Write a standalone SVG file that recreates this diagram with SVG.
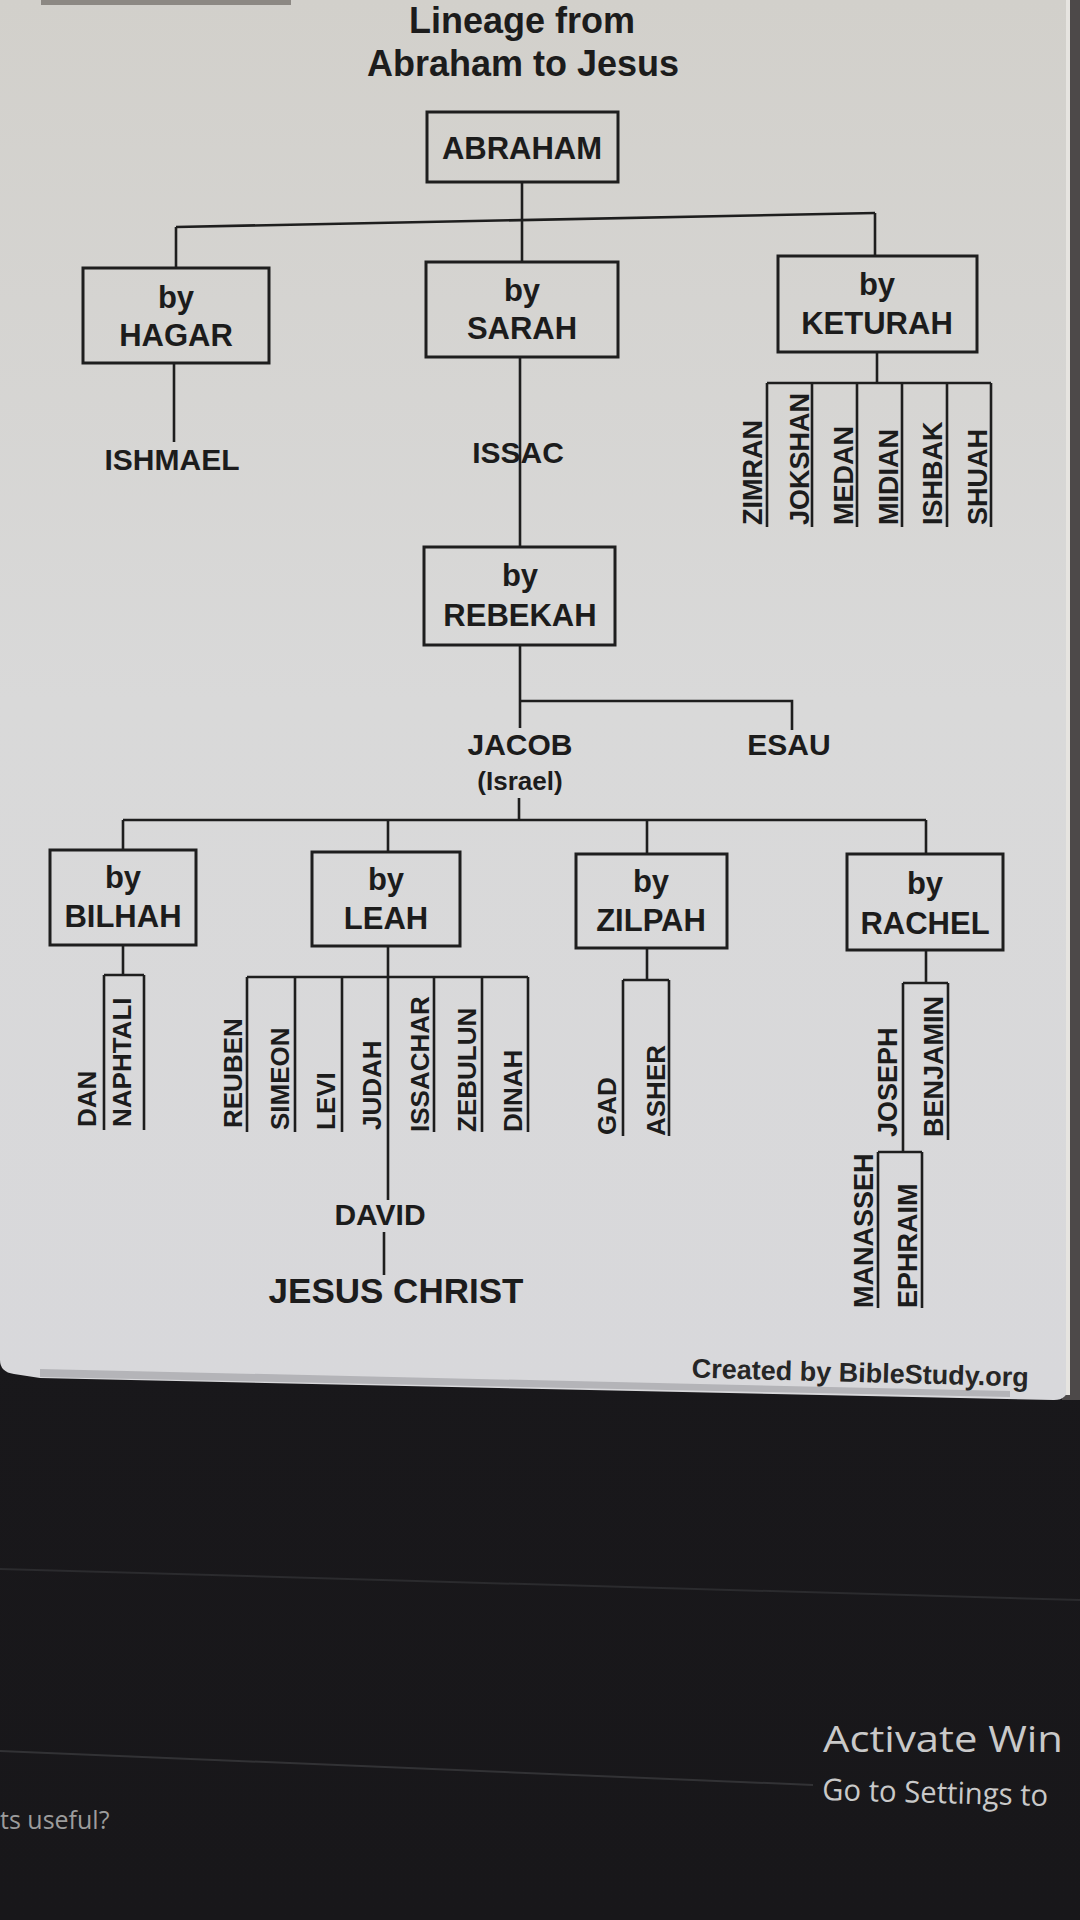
<svg xmlns="http://www.w3.org/2000/svg" width="1080" height="1920" viewBox="0 0 1080 1920">
<defs>
<linearGradient id="panelGrad" x1="0" y1="0" x2="0" y2="1">
<stop offset="0" stop-color="#d2d0cb"/>
<stop offset="0.5" stop-color="#d9d9d9"/>
<stop offset="1" stop-color="#d8d8db"/>
</linearGradient>
<linearGradient id="darkGrad" x1="0" y1="0" x2="0" y2="1">
<stop offset="0" stop-color="#1b1a1d"/>
<stop offset="1" stop-color="#18171a"/>
</linearGradient>
</defs>
<style>
.t{font-family:"Liberation Sans",Arial,sans-serif;font-weight:bold;fill:#1c1c1c;text-anchor:middle}
.lbl{font-size:31px}
.ttl{font-size:36px}
.nm{font-family:"Liberation Sans",Arial,sans-serif;font-weight:bold;fill:#1c1c1c;font-size:26px;text-anchor:start}
.nm27{font-size:27px}
.box{fill:none;stroke:#1e1e1e;stroke-width:3}
.ln{fill:none;stroke:#1e1e1e;stroke-width:2.6}
.win{font-family:"Open Sans","Noto Sans",sans-serif;fill:#c9c9c9}
</style>
<rect x="0" y="0" width="1080" height="1920" fill="url(#darkGrad)"/>
<rect x="1062" y="0" width="18" height="1400" fill="#4d4949"/>
<path d="M0,0 H1068 V1386 Q1068,1400 1054,1400 L40,1378 L14,1374 Q0,1372 0,1360 Z" fill="url(#panelGrad)"/>
<rect x="1066" y="0" width="4" height="1395" fill="#e6e4e0"/>
<rect x="41" y="0" width="250" height="5" fill="#8c8883"/>
<path d="M40,1369 L1010,1391 L1010,1397 L40,1377 Z" fill="#b4b4b8"/>
<line x1="0" y1="1569" x2="1080" y2="1600" stroke="#2b2b2e" stroke-width="2"/>
<line x1="0" y1="1751" x2="813" y2="1785" stroke="#323235" stroke-width="2"/>
<g id="title">
<text class="t ttl" x="522" y="33">Lineage from</text>
<text class="t ttl" x="523" y="76">Abraham to Jesus</text>
</g>
<g id="connectors">
<path class="ln" d="M522,182 V220"/>
<path class="ln" d="M176,227 L875,213"/>
<path class="ln" d="M176,227 V268"/>
<path class="ln" d="M522,220 V262"/>
<path class="ln" d="M875,213 V256"/>
<path class="ln" d="M174,363 V442"/>
<path class="ln" d="M520,357 V547"/>
<path class="ln" d="M877,352 V383"/>
<path class="ln" d="M767,383 H991 M767,383 V527 M812,383 V527 M857,383 V527 M902,383 V527 M947,383 V527 M991,383 V527"/>
<path class="ln" d="M520,645 V728"/>
<path class="ln" d="M520,701 H792 V730"/>
<path class="ln" d="M519,798 V820"/>
<path class="ln" d="M123,820 H926"/>
<path class="ln" d="M123,820 V850 M388,820 V852 M647,820 V854 M926,820 V854"/>
<path class="ln" d="M123,945 V975 M104,975 H144 M104,975 V1130 M144,975 V1130"/>
<path class="ln" d="M388,946 V1200 M247,977 H528 M247,977 V1132 M295,977 V1132 M342,977 V1132 M434,977 V1132 M482,977 V1132 M528,977 V1132"/>
<path class="ln" d="M384,1232 V1275"/>
<path class="ln" d="M647,948 V980 M623,980 H669 M623,980 V1136 M669,980 V1136"/>
<path class="ln" d="M926,950 V983 M903,983 H948 M948,983 V1140 M903,983 V1152 M878,1152 H922 M878,1152 V1308 M922,1152 V1308"/>
</g>
<g id="abraham">
<rect class="box" x="427" y="112" width="191" height="70"/>
<text class="t lbl" x="522" y="159">ABRAHAM</text>
</g>
<g id="hagar">
<rect class="box" x="83" y="268" width="186" height="95"/>
<text class="t lbl" x="176" y="308">by</text>
<text class="t lbl" x="176" y="346">HAGAR</text>
</g>
<g id="sarah">
<rect class="box" x="426" y="262" width="192" height="95"/>
<text class="t lbl" x="522" y="301">by</text>
<text class="t lbl" x="522" y="339">SARAH</text>
</g>
<g id="keturah">
<rect class="box" x="778" y="256" width="199" height="96"/>
<text class="t lbl" x="877" y="295">by</text>
<text class="t lbl" x="877" y="334">KETURAH</text>
</g>
<g id="ishmael"><text class="t lbl" x="172" y="470" style="font-size:30px">ISHMAEL</text></g>
<g id="issac"><text class="t lbl" x="518" y="463" style="font-size:30px">ISSAC</text></g>
<g id="keturah-sons">
<text class="nm nm27" transform="translate(762,525) rotate(-90)">ZIMRAN</text>
<text class="nm nm27" transform="translate(809,525) rotate(-90)">JOKSHAN</text>
<text class="nm nm27" transform="translate(853,525) rotate(-90)">MEDAN</text>
<text class="nm nm27" transform="translate(898,525) rotate(-90)">MIDIAN</text>
<text class="nm nm27" transform="translate(942,525) rotate(-90)">ISHBAK</text>
<text class="nm nm27" transform="translate(987,525) rotate(-90)">SHUAH</text>
</g>
<g id="rebekah">
<rect class="box" x="424" y="547" width="191" height="98"/>
<text class="t lbl" x="520" y="586">by</text>
<text class="t lbl" x="520" y="626">REBEKAH</text>
</g>
<g id="jacob">
<text class="t lbl" x="520" y="755" style="font-size:30px">JACOB</text>
<text class="t" x="520" y="790" style="font-size:26px">(Israel)</text>
</g>
<g id="esau"><text class="t lbl" x="789" y="755" style="font-size:30px">ESAU</text></g>
<g id="bilhah">
<rect class="box" x="50" y="850" width="146" height="95"/>
<text class="t lbl" x="123" y="888">by</text>
<text class="t lbl" x="123" y="927">BILHAH</text>
</g>
<g id="leah">
<rect class="box" x="312" y="852" width="148" height="94"/>
<text class="t lbl" x="386" y="890">by</text>
<text class="t lbl" x="386" y="929">LEAH</text>
</g>
<g id="zilpah">
<rect class="box" x="576" y="854" width="151" height="94"/>
<text class="t lbl" x="651" y="892">by</text>
<text class="t lbl" x="651" y="931">ZILPAH</text>
</g>
<g id="rachel">
<rect class="box" x="847" y="854" width="156" height="96"/>
<text class="t lbl" x="925" y="894">by</text>
<text class="t lbl" x="925" y="934">RACHEL</text>
</g>
<g id="bilhah-sons">
<text class="nm" transform="translate(96,1127) rotate(-90)">DAN</text>
<text class="nm" transform="translate(131,1127) rotate(-90)">NAPHTALI</text>
</g>
<g id="leah-children">
<text class="nm" transform="translate(242,1128) rotate(-90)">REUBEN</text>
<text class="nm" transform="translate(289,1130) rotate(-90)">SIMEON</text>
<text class="nm" transform="translate(335,1130) rotate(-90)">LEVI</text>
<text class="nm" transform="translate(381,1130) rotate(-90)">JUDAH</text>
<text class="nm" transform="translate(429,1132) rotate(-90)">ISSACHAR</text>
<text class="nm" transform="translate(476,1132) rotate(-90)">ZEBULUN</text>
<text class="nm" transform="translate(522,1132) rotate(-90)">DINAH</text>
</g>
<g id="zilpah-sons">
<text class="nm" transform="translate(616,1135) rotate(-90)">GAD</text>
<text class="nm" transform="translate(665,1136) rotate(-90)">ASHER</text>
</g>
<g id="rachel-sons">
<text class="nm nm27" transform="translate(897,1137) rotate(-90)">JOSEPH</text>
<text class="nm nm27" transform="translate(943,1137) rotate(-90)">BENJAMIN</text>
</g>
<g id="joseph-sons">
<text class="nm nm27" transform="translate(873,1308) rotate(-90)">MANASSEH</text>
<text class="nm nm27" transform="translate(917,1308) rotate(-90)">EPHRAIM</text>
</g>
<g id="david"><text class="t lbl" x="380" y="1225" style="font-size:30px">DAVID</text></g>
<g id="jesus"><text class="t" x="396" y="1303" style="font-size:35px">JESUS CHRIST</text></g>
<g id="credit"><text class="t" x="860" y="1382" transform="rotate(1.5 860 1382)" style="font-size:27px;fill:#262626">Created by BibleStudy.org</text></g>
<g id="screen-text">
<text class="win" x="823" y="1752" textLength="240" lengthAdjust="spacingAndGlyphs" style="font-size:37px">Activate Win</text>
<text class="win" x="822" y="1800" textLength="226" lengthAdjust="spacingAndGlyphs" transform="rotate(1.5 822 1800)" style="font-size:30px">Go to Settings to</text>
<text class="win" x="0" y="1829" style="font-size:25px;fill:#9c9c9c">ts useful?</text>
</g>
</svg>
